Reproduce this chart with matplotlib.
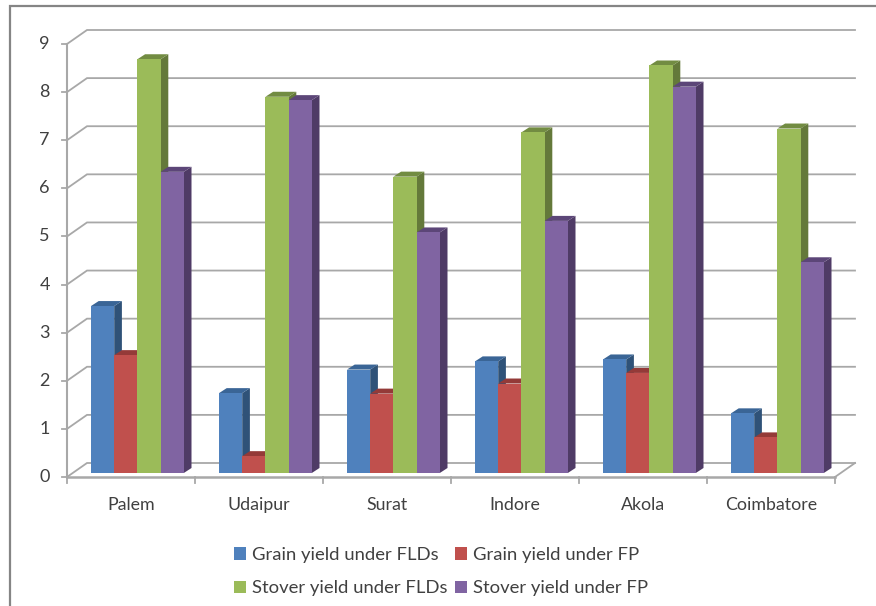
import matplotlib
matplotlib.use('Agg')
import matplotlib.pyplot as plt
from matplotlib.lines import Line2D
from matplotlib.patches import Patch, Polygon, Rectangle

plt.rcParams['font.family'] = ['Lato', 'DejaVu Sans']

sites = ['Palem', 'Udaipur', 'Surat', 'Indore', 'Akola', 'Coimbatore']
grain_fld = [3.47, 1.66, 2.15, 2.32, 2.36, 1.24]
grain_fp = [2.45, 0.35, 1.65, 1.86, 2.08, 0.74]
stover_fld = [8.6, 7.82, 6.16, 7.08, 8.47, 7.16]
stover_fp = [6.26, 7.75, 5.0, 5.24, 8.03, 4.38]
y_ticks = list(range(0, 10))

series = [
    ('Grain yield under FLDs', grain_fld, '#4F81BD', '#2F5278', '#3A6596'),
    ('Grain yield under FP', grain_fp, '#C0504D', '#7F2F2D', '#943A38'),
    ('Stover yield under FLDs', stover_fld, '#9BBB59', '#64793A', '#728C42'),
    ('Stover yield under FP', stover_fp, '#8064A2', '#4F3B66', '#5C4678'),
]

W, H = 876, 606
fig = plt.figure(figsize=(W / 100, H / 100), dpi=100)
# axes box = the front plane of the fake 3d chart
ax = fig.add_axes([67 / W, 1 - 477 / H, 768 / W, 433 / H])
ax.set_xlim(0, 6)
ax.set_ylim(0, 9)
ax.axis('off')

# pixel sizes converted to data units
px_x = 6 / 768
px_y = 9 / 433
wall_dx, wall_dy = 20 * px_x, 14 * px_y
bar_dx, bar_dy = 7.7 * px_x, 5 * px_y
base_off = 4 * px_y
bar_w = 23.2 * px_x
bar_start = 24.0 * px_x
grey = '#A8A8A8'

# only the top and left edges of the outer frame are in the picture
fig.add_artist(Line2D([10 / W, 10 / W, 1], [0, 1 - 6 / H, 1 - 6 / H], transform=fig.transFigure,
                      color='#858585', lw=1.6, solid_joinstyle='miter'))

# back wall grid and the little diagonals from the front axis
for t in y_ticks:
    ax.plot([0, wall_dx, 6 + wall_dx], [t, t + wall_dy, t + wall_dy], color=grey, lw=1.3,
            clip_on=False, zorder=1, solid_joinstyle='miter')
    ax.plot([-5 * px_x, 0], [t, t], color=grey, lw=1.3, clip_on=False, zorder=1)
    ax.text(-22.5 * px_x, t, str(t), ha='center', va='center', fontsize=13, color='#404040')
ax.plot([6, 6 + wall_dx], [0, wall_dy], color=grey, lw=1.3, clip_on=False, zorder=1)

z = 3
for c in range(len(sites)):
    for k, (name, vals, front, side, top) in enumerate(series):
        x0 = c + bar_start + k * bar_w
        x1 = x0 + bar_w
        y0 = base_off
        y1 = base_off + vals[c]
        ax.add_patch(Polygon([(x1, y0), (x1 + bar_dx, y0 + bar_dy), (x1 + bar_dx, y1 + bar_dy), (x1, y1)],
                             fc=side, ec='none', zorder=z, clip_on=False))
        ax.add_patch(Polygon([(x0, y1), (x1, y1), (x1 + bar_dx, y1 + bar_dy), (x0 + bar_dx, y1 + bar_dy)],
                             fc=top, ec='none', zorder=z, clip_on=False))
        ax.add_patch(Rectangle((x0, y0), bar_w, vals[c], fc=front, ec='none', zorder=z, clip_on=False))
        z += 1

# front axes drawn over the floor
ax.plot([0, 0], [0, 9], color=grey, lw=1.5, clip_on=False, zorder=2)
ax.plot([0, 6], [0, 0], color=grey, lw=1.8, clip_on=False, zorder=2)
for c in range(len(sites) + 1):
    ax.plot([c, c], [0, -6 * px_y], color=grey, lw=1.3, clip_on=False, zorder=2)
for c, s in enumerate(sites):
    ax.text(c + 0.5, -28 * px_y, s, ha='center', va='center', fontsize=12.8, color='#404040')

# two columns are filled top down, so list them column by column
handles = [Patch(fc=series[i][2], ec='none', label=series[i][0]) for i in (0, 2, 1, 3)]
fig.legend(handles=handles, ncol=2, loc='upper left', bbox_to_anchor=(234 / W, 1 - 547 / H),
           borderaxespad=0, borderpad=0, frameon=False, fontsize=13.3, labelcolor='#404040',
           handlelength=0.65, handleheight=0.65, handletextpad=0.32, labelspacing=0.94, columnspacing=0.42)

fig.savefig('out.png', dpi=100, facecolor='white')
